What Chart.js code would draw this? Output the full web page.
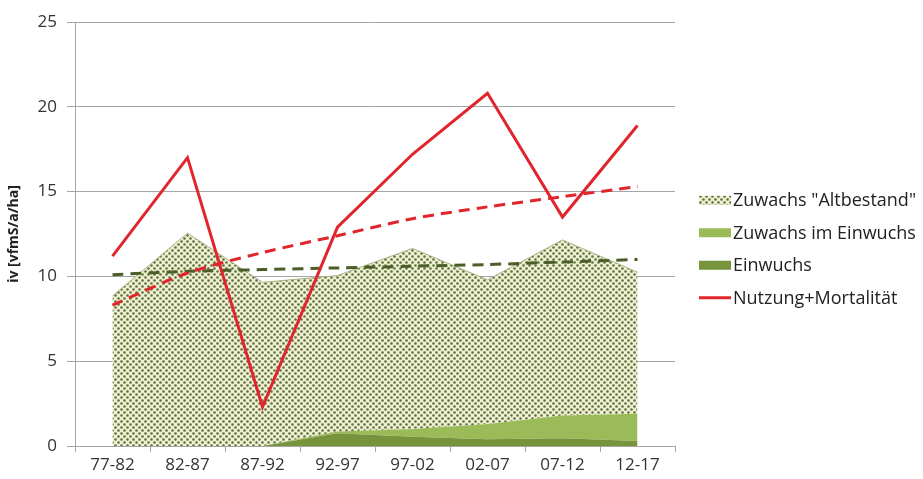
<!DOCTYPE html>
<html>
<head>
<meta charset="utf-8">
<script src="https://cdn.jsdelivr.net/npm/chart.js@4.4.1/dist/chart.umd.min.js"></script>
<style>
  html, body { margin: 0; background: #fff; }
  #wrap { width: 923px; height: 479px; position: relative; }
</style>
</head>
<body>
<div id="wrap"><canvas id="c"></canvas></div>
<script>
// ---------- Data ----------
const LABELS = ["77-82", "82-87", "87-92", "92-97", "97-02", "02-07", "07-12", "12-17"];
const EINWUCHS = [0, 0, 0, 0.75, 0.55, 0.4, 0.45, 0.3];
const ZUWACHS_EINWUCHS = [0, 0, 0, 0.1, 0.45, 0.9, 1.35, 1.6];
const ZUWACHS_ALT = [8.85, 12.55, 9.65, 9.2, 10.65, 8.5, 10.35, 8.35];
const NUTZUNG = [11.2, 17.0, 2.3, 12.9, 17.2, 20.8, 13.5, 18.9];
const TREND_NUTZUNG = [8.3, 10.2, 11.4, 12.4, 13.4, 14.1, 14.7, 15.3];
const TREND_ZUWACHS = [10.1, 10.3, 10.4, 10.5, 10.6, 10.7, 10.85, 11.0];
const Y_MIN = 0, Y_MAX = 25, Y_STEP = 5;

const FONT = "'Open Sans', 'DejaVu Sans', sans-serif";
const GRID = "#a6a6a6";
const RED = "#e0262c";

// dotted fill like the Excel pattern
function dotPattern() {
  const c = document.createElement("canvas");
  c.width = 6; c.height = 6;
  const g = c.getContext("2d");
  g.fillStyle = "#eef0d0";
  g.fillRect(0, 0, 6, 6);
  g.fillStyle = "#5f6e42";
  g.beginPath();
  g.arc(1.5, 1.5, 1.35, 0, Math.PI * 2);
  g.arc(4.5, 4.5, 1.35, 0, Math.PI * 2);
  g.fill();
  return g.createPattern(c, "repeat");
}

// legend entries (dataset index), top to bottom
const LEGEND_ORDER = [5, 4, 3, 0];

// the built-in legend is capped at half the free width, so draw it here
const sideLegend = {
  id: "sideLegend",
  afterDraw(chart) {
    const ctx = chart.ctx;
    const x0 = chart.chartArea.right + 24;
    const mid = (chart.chartArea.top + chart.chartArea.bottom) / 2 + 15;
    const step = 32.5;
    ctx.save();
    ctx.font = "18px " + FONT;
    ctx.textBaseline = "middle";
    LEGEND_ORDER.forEach((di, i) => {
      const ds = chart.data.datasets[di];
      const y = mid + (i - (LEGEND_ORDER.length - 1) / 2) * step;
      if (ds.pointStyle === "line") {
        ctx.strokeStyle = ds.borderColor;
        ctx.lineWidth = ds.borderWidth;
        ctx.beginPath();
        ctx.moveTo(x0, y);
        ctx.lineTo(x0 + 32, y);
        ctx.stroke();
      } else {
        ctx.fillStyle = ds.backgroundColor;
        ctx.fillRect(x0, y - 4.5, 32, 9);
      }
      ctx.fillStyle = "#222";
      ctx.fillText(ds.label, x0 + 34, y + 1);
    });
    ctx.restore();
  },
};

new Chart(document.getElementById("c"), {
  type: "line",
  data: {
    labels: LABELS,
    datasets: [
      { label: "Nutzung+Mortalität", data: NUTZUNG, borderColor: RED, backgroundColor: RED,
        borderWidth: 3, pointRadius: 0, pointStyle: "line", tension: 0, fill: false, stack: "r", order: 0 },
      { label: "trend1", data: TREND_NUTZUNG, borderColor: RED, borderWidth: 3, borderDash: [11, 7],
        pointRadius: 0, tension: 0.3, fill: false, stack: "t1", order: 1 },
      { label: "trend2", data: TREND_ZUWACHS, borderColor: "#4a5e26", borderWidth: 3, borderDash: [11, 7],
        pointRadius: 0, tension: 0.3, fill: false, stack: "t2", order: 2 },
      { label: "Einwuchs", data: EINWUCHS, borderColor: "#77933c", backgroundColor: "#77933c",
        borderWidth: 0, pointRadius: 0, pointStyle: "rect", tension: 0, fill: "origin", stack: "a", order: 3 },
      { label: "Zuwachs im Einwuchs", data: ZUWACHS_EINWUCHS, borderColor: "#9bbb59", backgroundColor: "#9bbb59",
        borderWidth: 0, pointRadius: 0, pointStyle: "rect", tension: 0, fill: "-1", stack: "a", order: 4 },
      { label: 'Zuwachs "Altbestand"', data: ZUWACHS_ALT, borderColor: "#aab38a", backgroundColor: dotPattern(),
        borderWidth: 1, pointRadius: 0, pointStyle: "rect", tension: 0, fill: "-1", stack: "a", order: 5 },
    ],
  },
  options: {
    responsive: true,
    maintainAspectRatio: false,
    animation: false,
    layout: { padding: { top: 22, right: 248, left: 0, bottom: 0 } },
    plugins: {
      tooltip: { enabled: false },
      legend: { display: false },
    },
    scales: {
      x: {
        offset: true,
        grid: { offset: true, drawOnChartArea: false, drawTicks: true, tickLength: 6, color: GRID },
        border: { display: true, color: GRID },
        ticks: { font: { family: FONT, size: 17 }, color: "#333", padding: 3, maxRotation: 0 },
        afterFit: (s) => { s.height = 33; },
      },
      y: {
        stacked: true,
        min: Y_MIN,
        max: Y_MAX,
        grid: { color: GRID, tickLength: 8 },
        border: { display: true, color: GRID },
        ticks: { stepSize: Y_STEP, font: { family: FONT, size: 17 }, color: "#333", padding: 10 },
        title: { display: true, text: "iv [vfmS/a/ha]", font: { family: FONT, size: 14, weight: "bold" },
                 color: "#222", padding: { top: 6, bottom: 0 } },
        afterFit: (s) => { s.width = 75; },
      },
    },
  },
  plugins: [sideLegend],
});
</script>
</body>
</html>
